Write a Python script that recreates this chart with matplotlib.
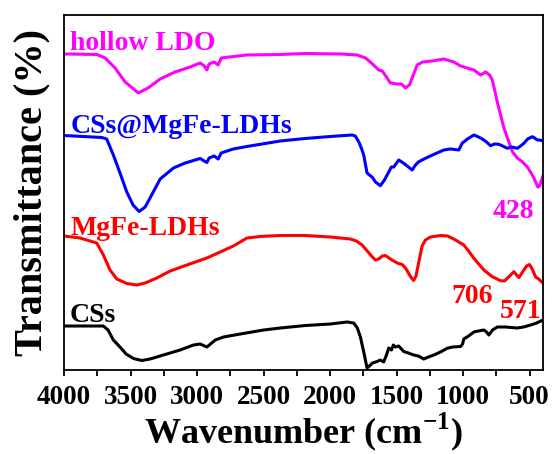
import numpy as np
import matplotlib
matplotlib.use('Agg')
import matplotlib.pyplot as plt
from matplotlib.ticker import MultipleLocator

plt.rcParams['font.family'] = ['Liberation Serif', 'DejaVu Serif']
plt.rcParams['font.weight'] = 'bold'
plt.rcParams['mathtext.fontset'] = 'custom'
plt.rcParams['mathtext.rm'] = 'Liberation Serif:bold'

# hollow LDO (magenta, top)
wn_ldo = [4000, 3754, 3691, 3616, 3541, 3441, 3368, 3277, 3165, 3052, 2976, 2946, 2926,
          2909, 2871, 2841, 2818, 2625, 2374, 2186, 1923, 1797, 1734, 1697, 1634, 1607,
          1546, 1496, 1463, 1433, 1403, 1383, 1345, 1305, 1230, 1145, 1070, 1019, 919,
          869, 831, 801, 781, 763, 743, 718, 693, 656, 628, 593, 553, 517, 493, 468,
          438, 425, 405, 400]
t_ldo = [316, 315.5, 312, 302, 288, 277, 282, 291, 298, 303, 307, 304, 300,
         306, 308, 305, 312, 315, 315.5, 316.5, 316, 315, 312, 308, 300, 299,
         287, 286, 286, 282, 285, 292, 305, 308, 309, 311, 308, 304, 300,
         295, 298, 295, 290, 280, 268, 255, 242, 228, 218, 212, 208, 203, 198, 192,
         183, 184, 192, 194]

# CSs@MgFe-LDHs (blue)
wn_cl = [4000, 3716, 3679, 3629, 3579, 3528, 3481, 3435, 3390, 3353, 3277, 3177, 3089,
         3014, 2976, 2946, 2926, 2909, 2871, 2841, 2818, 2728, 2625, 2374, 2186, 1998,
         1835, 1810, 1785, 1765, 1747, 1722, 1704, 1684, 1659, 1622, 1591, 1559, 1539,
         1521, 1484, 1446, 1411, 1383, 1358, 1333, 1283, 1230, 1145, 1095, 1032, 1007,
         967, 919, 884, 856, 824, 794, 763, 731, 703, 668, 636, 593, 568, 543, 515,
         480, 462, 442, 425, 400]
t_cl = [234.5, 232.5, 231, 215, 197, 178, 165, 158.5, 163, 172, 191, 202, 207,
        210, 211.5, 209, 207.5, 212, 214, 211, 217, 221, 223.5, 229, 231.5, 233.5,
        235, 234, 228.3, 222, 215, 197, 195, 193, 188, 184.3, 190, 198, 203,
        203, 210, 206.7, 203, 200, 205, 208.3, 211.7, 215, 220, 221, 220, 226.7,
        231, 235, 233, 231, 228, 224.3, 226, 225.7, 224, 221.7, 223, 221.7, 224, 226.7, 231,
        233.3, 232, 230, 230, 229]

# MgFe-LDHs (red)
wn_ldh = [4000, 3880, 3754, 3704, 3654, 3603, 3528, 3453, 3390, 3302, 3202, 3076, 2926,
          2826, 2726, 2625, 2525, 2374, 2186, 1998, 1847, 1802, 1759, 1727, 1684, 1659,
          1634, 1607, 1584, 1546, 1496, 1458, 1433, 1409, 1388, 1371, 1354, 1333, 1308,
          1283, 1245, 1170, 1117, 1070, 995, 959, 919, 844, 781, 718, 688, 658, 618,
          598, 580, 553, 523, 500, 477, 455, 432, 400]
t_ldh = [134, 132, 127, 115, 100, 91, 86.5, 85, 87, 92, 99, 105, 112,
         118, 124, 132, 133.5, 134.5, 134.5, 133, 131, 129, 125, 120, 113.3, 110,
         111, 114, 114.5, 111, 107, 105.5, 102, 96.5, 92, 89.5, 94, 108, 124,
         130, 133, 134.5, 134, 131, 125, 119, 111.7, 100, 93.3, 89.3, 89, 93, 98.3,
         95, 92.5, 98, 104, 105.5, 100, 93, 91, 87]

# CSs (black, bottom)
wn_css = [4000, 3704, 3669, 3629, 3579, 3533, 3478, 3415, 3353, 3253, 3127, 3027, 2976,
          2926, 2863, 2801, 2675, 2500, 2374, 2186, 1998, 1872, 1822, 1795, 1772, 1750,
          1722, 1704, 1682, 1646, 1622, 1597, 1576, 1559, 1539, 1524, 1509, 1484, 1446,
          1411, 1371, 1336, 1296, 1260, 1220, 1170, 1120, 1080, 1019, 1004, 995, 959,
          919, 884, 844, 824, 806, 779, 743, 681, 593, 545, 493, 447, 400]
t_css = [44, 44, 40, 30, 23, 16, 11.5, 9.5, 11, 15, 20, 25, 26,
         23, 30, 33, 36, 40, 42, 44.5, 46, 48, 47, 42, 33, 20,
         2, 4, 7, 8.5, 10, 8, 15, 22, 20, 25, 23, 24, 18.5,
         17, 15, 14, 11, 13, 15, 18, 21.7, 23, 23.5, 26, 31, 34,
         38, 39, 40, 38, 35, 40, 43, 43, 42, 43, 45, 47, 50]

fig = plt.figure(figsize=(5.54, 4.54), dpi=100)
ax = fig.add_axes([0.1155, 0.185, 0.8645, 0.782])

lw = 2.2
ax.plot(wn_ldo, t_ldo, color='#FF00FF', lw=lw)
ax.plot(wn_cl, t_cl, color='#0000FF', lw=lw)
ax.plot(wn_ldh, t_ldh, color='#FF0000', lw=lw)
ax.plot(wn_css, t_css, color='black', lw=lw)

fs = 20
ax.text(3955, 320, 'hollow LDO', color='#FF00FF', fontsize=fs, fontweight='bold', va='baseline')
ax.text(3947, 237, 'CSs@MgFe-LDHs', color='#0000FF', fontsize=fs, fontweight='bold', va='baseline')
ax.text(3951, 135, 'MgFe-LDHs', color='#FF0000', fontsize=fs, fontweight='bold', va='baseline')
ax.text(3955, 48, 'CSs', color='black', fontsize=fs, fontweight='bold', va='baseline')
ax.text(620, 152, '428', color='#FF00FF', fontsize=fs, fontweight='bold', va='baseline', ha='center')
ax.text(929, 67, '706', color='#FF0000', fontsize=fs, fontweight='bold', va='baseline', ha='center')
ax.text(568, 52, '571', color='#FF0000', fontsize=fs, fontweight='bold', va='baseline', ha='center')

ax.set_xlim(4000, 400)
ax.set_ylim(0, 355)
ax.xaxis.set_major_locator(MultipleLocator(500))
ax.xaxis.set_minor_locator(MultipleLocator(250))
ax.set_yticks([])
ax.tick_params(axis='x', which='both', direction='out', length=4.3, width=1.3,
               labelsize=19.5, pad=6.5)
for lab in ax.get_xticklabels():
    lab.set_fontweight('bold')
for s in ax.spines.values():
    s.set_linewidth(1.3)

ax.set_xlabel('Wavenumber (cm$^{-1}$)', fontsize=26, fontweight='bold', labelpad=0)
ax.set_ylabel('Transmittance (%)', fontsize=29, fontweight='bold', labelpad=10)

fig.savefig('out.png', dpi=100)
